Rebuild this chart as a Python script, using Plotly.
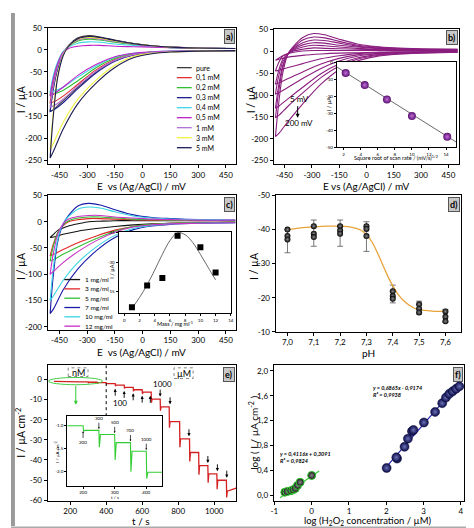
import plotly.graph_objects as go

W, H = 474, 528
FONT = "Lato"

# ---------------- Panel a: CVs at different H2O2 concentrations ----------------
cv_E_low = [500, 300, 150, 50, -50, -150, -250, -350, -430, -480, -500]
cv_E_up = [-500, -485, -460, -430, -400, -350, -290, -230, -150, -50, 50, 150, 300, 500]

a_labels = ["pure", "0,1 mM", "0,2 mM", "0,3 mM", "0,4 mM", "0,5 mM", "1 mM", "3 mM", "5 mM"]
a_colors = ["#3a3a3a", "#e03030", "#2fc02f", "#20208a", "#40d8e8", "#c020c8", "#b070d8", "#f0f040", "#1c1c55"]
a_low = [
    [-2, -3, -4, -6, -12, -25, -50, -85, -115, -135, -140],
    [-2, -3, -4, -5, -10, -22, -45, -78, -105, -118, -120],
    [-2, -3, -4, -5, -9, -19, -40, -70, -92, -100, -102],
    [-2, -3, -4, -6, -12, -26, -52, -88, -120, -136, -140],
    [-2, -3, -3, -5, -8, -17, -36, -62, -85, -94, -96],
    [-2, -3, -3, -5, -8, -16, -33, -58, -85, -100, -105],
    [-2, -3, -4, -6, -11, -24, -48, -82, -112, -127, -130],
    [-2, -3, -5, -8, -15, -35, -68, -112, -165, -210, -228],
    [-2, -3, -5, -9, -18, -40, -75, -122, -180, -228, -245],
]
a_up = [
    [-140, -95, -45, -10, 10, 27, 32, 29, 22, 14, 9, 6, 4, 3],
    [-120, -80, -38, -8, 8, 23, 27, 25, 19, 13, 8, 6, 4, 3],
    [-102, -68, -32, -6, 7, 20, 24, 22, 17, 12, 8, 5, 4, 3],
    [-140, -92, -42, -9, 9, 25, 29, 27, 21, 14, 9, 6, 4, 3],
    [-96, -62, -28, -4, 6, 15, 18, 17, 13, 10, 7, 5, 4, 3],
    [-105, -70, -32, -6, 3, 8, 10, 10, 8, 7, 6, 5, 4, 3],
    [-130, -88, -40, -8, 8, 22, 26, 24, 19, 13, 8, 6, 4, 3],
    [-228, -150, -60, -12, 8, 24, 28, 26, 20, 14, 9, 6, 4, 3],
    [-245, -160, -65, -14, 8, 25, 30, 28, 21, 14, 9, 6, 4, 3],
]

# ---------------- Panel b: scan rates ----------------
b_color = "#8b1f7f"
b_low = [
    [0, -1, -1, -2, -3, -4, -6, -9, -13, -18, -20],
    [-1, -1, -2, -3, -5, -10, -17, -28, -37, -43, -45],
    [-1, -2, -3, -5, -8, -16, -29, -47, -62, -72, -75],
    [-1, -2, -4, -6, -11, -22, -39, -62, -82, -94, -98],
    [-2, -3, -5, -8, -15, -29, -51, -82, -108, -125, -130],
    [-2, -3, -6, -10, -18, -34, -60, -95, -125, -146, -152],
    [-2, -4, -7, -12, -22, -42, -75, -120, -160, -187, -195],
]
b_up = [
    [-20, -16, -10, -5, -2, 1, 2, 2, 2, 2, 2, 2, 2, 2],
    [-45, -28, -11, -5, 1, 5, 8, 7, 6, 5, 4, 3, 3, 3],
    [-75, -48, -18, -5, 3, 10, 14, 13, 10, 7, 5, 4, 3, 3],
    [-98, -62, -24, -5, 5, 15, 20, 19, 14, 10, 7, 5, 4, 4],
    [-130, -85, -32, -5, 7, 20, 26, 25, 19, 12, 8, 6, 5, 4],
    [-152, -100, -38, -5, 9, 26, 33, 31, 23, 14, 10, 7, 5, 5],
    [-195, -130, -50, -5, 12, 32, 41, 38, 28, 17, 11, 8, 6, 5],
]
b_sqrt_rate = [2.24, 4.47, 7.07, 10.0, 14.14]
b_peak_I = [-6.4, -13.5, -21.9, -31.6, -43.8]
b_fit_x = [1.2, 15.2]
b_fit_y = [-2.9, -46.9]

# ---------------- Panel c: mass loading ----------------
c_labels = ["1 mg/ml", "3 mg/ml", "5 mg/ml", "7 mg/ml", "10 mg/ml", "12 mg/ml"]
c_colors = ["#111111", "#e02828", "#33c033", "#1a1aa8", "#38d4e4", "#c830c8"]
c_low = [
    [-1, -2, -3, -4, -6, -9, -13, -18, -24, -29, -30],
    [-1, -2, -3, -5, -9, -16, -27, -40, -53, -62, -65],
    [-1, -2, -3, -5, -9, -18, -32, -48, -62, -72, -75],
    [-2, -3, -5, -8, -15, -30, -55, -90, -130, -165, -175],
    [-2, -3, -4, -7, -13, -26, -48, -78, -112, -140, -150],
    [-2, -3, -4, -6, -10, -20, -36, -57, -78, -94, -100],
]
c_up = [
    [-30, -25, -17, -12, -8, -4, 0, 1, 2, 2, 2, 2, 2, 2],
    [-65, -45, -22, -8, 0, 4, 6, 6, 5, 4, 3, 3, 2, 2],
    [-75, -50, -22, -6, 2, 7, 9, 9, 7, 5, 4, 3, 3, 2],
    [-175, -110, -40, -5, 12, 30, 35, 32, 23, 13, 8, 6, 4, 3],
    [-150, -95, -35, -4, 10, 24, 28, 26, 19, 11, 7, 5, 4, 3],
    [-100, -65, -25, -4, 5, 10, 12, 12, 9, 7, 5, 4, 3, 3],
]
c_mass = [1, 3, 5, 7, 10, 12]
c_peak_I = [-7.1, -18.1, -21.9, -43.5, -37.6, -24.8]
c_fit_mass = [1, 2, 3, 4, 5, 6, 7, 8, 9, 10, 11, 12]
c_fit_I = [-6.5, -12, -18.5, -26, -34, -41, -45, -44, -40, -34, -27.5, -21]

# ---------------- Panel d: pH ----------------
d_pH = [7.0, 7.1, 7.2, 7.3, 7.4, 7.5, 7.6]
d_pts = [
    [-40.0, -38.1, -37.1],
    [-41.0, -38.8, -37.8],
    [-41.0, -39.7, -38.8],
    [-41.0, -40.2, -38.1],
    [-21.9, -20.5, -19.7],
    [-18.1, -16.8, -15.7],
    [-16.0, -14.4, -13.1],
]
d_bar_top = [-40.0, -42.8, -42.8, -42.3, -23.7, -19.0, -16.6]
d_bar_bottom = [-33.2, -35.1, -35.1, -33.6, -18.5, -15.2, -12.8]
d_fit_pH = [7.0, 7.05, 7.1, 7.15, 7.2, 7.25, 7.28, 7.3, 7.32, 7.34, 7.36, 7.38, 7.4,
            7.42, 7.45, 7.48, 7.5, 7.55, 7.6]
d_fit_I = [-40, -40.5, -40.8, -41, -41, -40.6, -39.8, -38.5, -36.5, -33.5, -30, -26.5, -23.5,
           -21, -18.5, -17, -16.5, -16.1, -16]

# ---------------- Panel e: amperometry ----------------
e_start = [110, 150]
e_start_I = [-0.9, -1.0]
nm_step_t = [200, 250, 300, 350, 400]
nm_levels = [-1.1, -1.19, -1.37, -1.56, -2.02]
nm_spikes = [-1.12, -1.47, -1.75, -2.01, -2.16]
um_step_t = [450, 500, 550, 600, 650, 700, 750, 808, 863, 914, 965, 1015, 1068]
um_levels = [-2.8, -3.9, -5.1, -6.3, -9.8, -13.6, -20.9, -29.5, -36.3, -42.8, -46.9, -50.1, -55.5]
um_spikes = [-3.3, -4.5, -5.9, -7.2, -11.5, -15.5, -24.0, -33.7, -40.8, -47.3, -51.3, -54.5, -58.6]
e_end_t = [1122]
e_end_I = [-54.0]
e_arrow_up_t = [450, 500, 550, 600, 645]
e_arrow_down_t = [700, 755, 860, 965, 1018, 1070]
e_inset_labels = ["200", "300", "500", "700", "1000"]

# ---------------- Panel f: calibration ----------------
f_green_x = [-0.72, -0.66, -0.56, -0.5, -0.44, -0.38, -0.31, 0.0]
f_green_y = [0.05, 0.06, 0.075, 0.09, 0.11, 0.16, 0.21, 0.32]
f_green_fit_x = [-0.85, 0.2]
f_green_fit_y = [-0.04, 0.39]
f_blue_x = [2.01, 2.29, 2.27, 2.49, 2.58, 2.69, 2.73, 3.01, 3.31, 3.5, 3.6, 3.69, 3.78, 3.87, 3.96]
f_blue_y = [0.44, 0.59, 0.61, 0.78, 0.91, 1.03, 1.05, 1.17, 1.34, 1.48, 1.57, 1.63, 1.67, 1.71, 1.75]
f_blue_fit_x = [1.95, 4.0]
f_blue_fit_y = [0.42, 1.83]


# ---------------- helpers ----------------
def dx(l, r):
    return [l / W, r / W]


def dy(t, b):
    return [1 - b / H, 1 - t / H]


def px(x):
    return x / W


def py(y):
    return 1 - y / H


fig = go.Figure()


def cv(xa, ya, low, up, color, width=1.1):
    fig.add_trace(go.Scatter(x=cv_E_low + cv_E_up, y=low + up, mode="lines",
                             line=dict(color=color, width=width, shape="spline", smoothing=0.8),
                             xaxis=xa, yaxis=ya, showlegend=False, hoverinfo="skip"))


# panel a
for lo, up, col in zip(a_low, a_up, a_colors):
    cv("x", "y", lo, up, col)
# panel b
for lo, up in zip(b_low, b_up):
    cv("x2", "y2", lo, up, b_color)
fig.add_trace(go.Scatter(x=b_fit_x, y=b_fit_y, mode="lines", line=dict(color="#444", width=0.8),
                         xaxis="x3", yaxis="y3", showlegend=False))
fig.add_trace(go.Scatter(x=b_sqrt_rate, y=b_peak_I, mode="markers",
                         marker=dict(size=8, color="#5a0f70", gradient=dict(type="radial", color="#c070d8"),
                                     line=dict(width=0)),
                         xaxis="x3", yaxis="y3", showlegend=False))
# panel c
for lo, up, col in zip(c_low, c_up, c_colors):
    cv("x4", "y4", lo, up, col)
fig.add_trace(go.Scatter(x=c_fit_mass, y=c_fit_I, mode="lines",
                         line=dict(color="#444", width=0.8, shape="spline"),
                         xaxis="x5", yaxis="y5", showlegend=False))
fig.add_trace(go.Scatter(x=c_mass, y=c_peak_I, mode="markers",
                         marker=dict(symbol="square", size=6, color="black"),
                         xaxis="x5", yaxis="y5", showlegend=False))
# panel d
d_center = [sum(p) / len(p) for p in d_pts]
fig.add_trace(go.Scatter(x=d_pH, y=d_center, mode="markers", marker=dict(size=1, color="rgba(0,0,0,0)"),
                         error_y=dict(type="data", symmetric=False,
                                      array=[b - c for b, c in zip(d_bar_bottom, d_center)],
                                      arrayminus=[c - t for t, c in zip(d_bar_top, d_center)],
                                      color="#555", thickness=0.8, width=3),
                         xaxis="x6", yaxis="y6", showlegend=False))
fig.add_trace(go.Scatter(x=d_fit_pH, y=d_fit_I, mode="lines",
                         line=dict(color="#e8a33a", width=1.3, shape="spline"),
                         xaxis="x6", yaxis="y6", showlegend=False))
fig.add_trace(go.Scatter(x=[p for p, pts in zip(d_pH, d_pts) for _ in pts],
                         y=[v for pts in d_pts for v in pts], mode="markers",
                         marker=dict(size=6, color="black", gradient=dict(type="radial", color="#8a8a8a")),
                         xaxis="x6", yaxis="y6", showlegend=False))


# panel e: build the staircase from the step tables
def staircase(t0, I0, steps, levels, spikes):
    t, I = list(t0), list(I0)
    prev = I[-1]
    for st, lv, sp in zip(steps, levels, spikes):
        t += [st, st + 1.5, st + 5]
        I += [prev, sp, lv]
        prev = lv
    return t, I, prev


t_nm, I_nm, last_nm = staircase(e_start, e_start_I, nm_step_t, nm_levels, nm_spikes)
t_all, I_all, last = staircase(t_nm, I_nm, um_step_t, um_levels, um_spikes)
t_all += e_end_t
I_all += e_end_I
fig.add_trace(go.Scatter(x=t_all, y=I_all, mode="lines", line=dict(color="#d42020", width=1.3),
                         xaxis="x7", yaxis="y7", showlegend=False))
t_in, I_in, _ = staircase([150], [-1.0], nm_step_t, nm_levels, nm_spikes)
t_in += [450]
I_in += [nm_levels[-1]]
fig.add_trace(go.Scatter(x=t_in, y=I_in, mode="lines", line=dict(color="#33cc33", width=1.1),
                         xaxis="x8", yaxis="y8", showlegend=False))

# panel f
fig.add_trace(go.Scatter(x=f_green_fit_x, y=f_green_fit_y, mode="lines", line=dict(color="#33cc33", width=1.2),
                         xaxis="x9", yaxis="y9", showlegend=False))
fig.add_trace(go.Scatter(x=f_blue_fit_x, y=f_blue_fit_y, mode="lines", line=dict(color="#2020b0", width=1.2),
                         xaxis="x9", yaxis="y9", showlegend=False))
fig.add_trace(go.Scatter(x=f_green_x, y=f_green_y, mode="markers",
                         marker=dict(size=8, color="#111111", gradient=dict(type="radial", color="#8a8a8a"),
                                     line=dict(color="#33cc33", width=1)),
                         xaxis="x9", yaxis="y9", showlegend=False))
fig.add_trace(go.Scatter(x=f_blue_x, y=f_blue_y, mode="markers",
                         marker=dict(size=9, color="#0c0c48", gradient=dict(type="radial", color="#6c72b8"),
                                     line=dict(color="#08083a", width=0.5)),
                         xaxis="x9", yaxis="y9", showlegend=False))

# ---------------- axes ----------------
TF = dict(family=FONT, size=8, color="black")
TFS = dict(family=FONT, size=4.5, color="black")


def ax(domain, rng, anchor, tickvals=None, ticktext=None, small=False):
    d = dict(domain=domain, range=rng, anchor=anchor, showline=True, linecolor="black",
             linewidth=1, mirror=True, ticks="outside", ticklen=2 if small else 3, tickcolor="black",
             tickwidth=0.8, showgrid=False, zeroline=False, tickfont=TFS if small else TF)
    if tickvals is not None:
        d["tickmode"] = "array"
        d["tickvals"] = tickvals
        d["ticktext"] = ticktext if ticktext is not None else [str(v) for v in tickvals]
    return d


E_ticks = [-450, -300, -150, 0, 150, 300, 450]
layout_axes = dict(
    xaxis=ax(dx(37, 228), [-514, 505], "y", E_ticks),
    yaxis=ax(dy(15, 154), [-259, 50], "x", [50, 0, -50, -100, -150, -200, -250]),
    xaxis2=ax(dx(266, 454), [-510, 510], "y2", E_ticks),
    yaxis2=ax(dy(16, 154), [-258, 52], "x2", [50, 0, -50, -100, -150, -200, -250]),
    xaxis3=ax(dx(330, 451), [1.2, 15.2], "y3", [2, 4, 6, 8, 10, 12, 14], small=True),
    yaxis3=ax(dy(50, 137), [-50, 0], "x3", [0, -10, -20, -30, -40, -50], small=True),
    xaxis4=ax(dx(37, 228), [-514, 505], "y4", E_ticks),
    yaxis4=ax(dy(186, 323), [-206, 50], "x4", [50, 0, -50, -100, -150, -200]),
    xaxis5=ax(dx(109, 223), [-0.75, 14.05], "y5", [0, 2, 4, 6, 8, 10, 12, 14], small=True),
    yaxis5=ax(dy(223, 306), [-4, -45.5], "x5", [-45, -30, -15], small=True),
    xaxis6=ax(dx(268, 456), [6.955, 7.66], "y6", d_pH, ["7,0", "7,1", "7,2", "7,3", "7,4", "7,5", "7,6"]),
    yaxis6=ax(dy(186, 325), [-10, -50], "x6", [-50, -40, -30, -20, -10]),
    xaxis7=ax(dx(37, 228), [74, 1122], "y7", [200, 400, 600, 800, 1000]),
    yaxis7=ax(dy(359, 497), [-60.2, 7.1], "x7", [0, -10, -20, -30, -40, -50, -60]),
    xaxis8=ax(dx(57, 153), [150, 450], "y8", [200, 300, 400], small=True),
    yaxis8=ax(dy(411, 482), [-2.32, -0.79], "x8", [-1.0, -1.5, -2.0], ["-1,0", "-1,5", "-2,0"], small=True),
    xaxis9=ax(dx(266, 459), [-1.02, 4.09], "y9", [-1, 0, 1, 2, 3, 4]),
    yaxis9=ax(dy(359, 497), [-0.084, 2.09], "x9", [0, 0.4, 0.8, 1.2, 1.6, 2.0],
              ["0,0", "0,4", "0,8", "1,2", "1,6", "2,0"]),
)

# ---------------- annotations ----------------
ann = []
shapes = []


def text(x, y, s, size=11, angle=0, xanchor="center", yanchor="middle", **kw):
    ann.append(dict(x=px(x), y=py(y), xref="paper", yref="paper", text=s, showarrow=False,
                    font=dict(family=FONT, size=size, color="black"), textangle=angle,
                    xanchor=xanchor, yanchor=yanchor, **kw))


# axis titles
text(132, 176.5, "E  vs (Ag/AgCl) / mV", size=10)
text(360, 176.5, "E vs (Ag/AgCl) / mV", size=10)
text(132, 346, "E  vs (Ag/AgCl) / mV", size=10)
text(362, 347, "pH", size=10)
text(132, 517.5, "t / s", size=10)
text(362, 517.5, "log (H<sub>2</sub>O<sub>2</sub> concentration / µM)", size=9.5)
text(10, 88, "I / µA", size=10.5, angle=-90)
text(243, 88, "I / µA", size=10.5, angle=-90)
text(10, 258, "I / µA", size=10.5, angle=-90)
text(246, 258, "I / µA", size=10.5, angle=-90)
text(10, 428, "I / µA cm<sup>-2</sup>", size=10.5, angle=-90)
text(246, 428, "log ( I / µA cm<sup>-2</sup> )", size=10, angle=-90)
# inset titles
text(390, 147.5, "Square root of scan rate / (mV/s)<sup>1/2</sup>", size=5.5)
text(322, 93, "I / µA", size=5.5, angle=-90)
text(166, 316, "Mass / mg ml<sup>-1</sup>", size=5.5)
text(102, 264, "I / µA", size=5.5, angle=-90)
text(105, 493.5, "t / s", size=4.5)
text(46, 447, "I / µA cm<sup>-2</sup>", size=4.5, angle=-90)

# panel labels
for lbl, r, t in [("a)", 228, 15), ("b)", 454, 16), ("c)", 228, 186), ("d)", 456, 186),
                  ("e)", 228, 359), ("f)", 459, 359)]:
    ann.append(dict(x=px(r - 1), y=py(t + 1.5), xref="paper", yref="paper", text="<b>" + lbl + "</b>",
                    showarrow=False, xanchor="right", yanchor="top", bgcolor="#c8c8c8",
                    bordercolor="#555", borderwidth=1, borderpad=1,
                    font=dict(family=FONT, size=9, color="black")))

# legends (drawn manually to match the tight spacing)
for i, (lbl, col) in enumerate(zip(a_labels, a_colors)):
    yy = 55.7 + i * 10.2
    shapes.append(dict(type="line", xref="paper", yref="paper", x0=px(168), x1=px(183), y0=py(yy), y1=py(yy),
                       line=dict(color=col, width=1.3)))
    text(185, yy, lbl, size=7, xanchor="left")
for i, (lbl, col) in enumerate(zip(c_labels, c_colors)):
    yy = 271.7 + i * 9.5
    shapes.append(dict(type="line", xref="paper", yref="paper", x0=px(54), x1=px(70), y0=py(yy), y1=py(yy),
                       line=dict(color=col, width=1.3)))
    text(73, yy, lbl, size=6.5, xanchor="left")

# panel b scan-rate annotation
ann.append(dict(x=-378, y=-152, xref="x2", yref="y2", ax=-378, ay=-122, axref="x2", ayref="y2",
                showarrow=True, arrowhead=2, arrowsize=0.8, arrowwidth=1, arrowcolor="black", text=""))
ann.append(dict(x=-370, y=-108, xref="x2", yref="y2", text="5 mV", showarrow=False,
                font=dict(family=FONT, size=8, color="black")))
ann.append(dict(x=-370, y=-165, xref="x2", yref="y2", text="200 mV", showarrow=False,
                font=dict(family=FONT, size=8, color="black")))

# panel e annotations
shapes.append(dict(type="line", xref="x7", yref="y7", x0=400, x1=400, y0=7.1, y1=-18,
                   line=dict(color="black", width=1, dash="dot")))
shapes.append(dict(type="circle", xref="x7", yref="y7", x0=80, x1=380, y0=-2.6, y1=1.0,
                   line=dict(color="#44cc44", width=1)))
shapes.append(dict(type="rect", xref="x7", yref="y7", x0=189, x1=299, y0=1.5, y1=5.8,
                   line=dict(color="#666", width=0.8, dash="dot")))
shapes.append(dict(type="rect", xref="x7", yref="y7", x0=777, x1=883, y0=0.5, y1=5.8,
                   line=dict(color="#666", width=0.8, dash="dot")))
ann.append(dict(x=244, y=3.6, xref="x7", yref="y7", text="nM", showarrow=False,
                font=dict(family=FONT, size=9, color="black")))
ann.append(dict(x=830, y=3.1, xref="x7", yref="y7", text="µM", showarrow=False,
                font=dict(family=FONT, size=9, color="black")))
ann.append(dict(x=231, y=-12.5, xref="x7", yref="y7", ax=231, ay=-2.4, axref="x7", ayref="y7",
                showarrow=True, arrowhead=2, arrowsize=0.8, arrowwidth=1, arrowcolor="#33cc33", text=""))


def level_at(t):
    lv = nm_levels[-1]
    for st, l in zip(um_step_t, um_levels):
        if t >= st:
            lv = l
    return lv


for t in e_arrow_up_t:
    lv = level_at(t + 1)
    ann.append(dict(x=t, y=lv - 1.8, xref="x7", yref="y7", ax=t, ay=lv - 6, axref="x7", ayref="y7",
                    showarrow=True, arrowhead=2, arrowsize=0.7, arrowwidth=0.9, arrowcolor="black", text=""))
for t in e_arrow_down_t:
    lv = level_at(t - 10)
    ann.append(dict(x=t, y=lv + 1.3, xref="x7", yref="y7", ax=t, ay=lv + 5.5, axref="x7", ayref="y7",
                    showarrow=True, arrowhead=2, arrowsize=0.7, arrowwidth=0.9, arrowcolor="black", text=""))
ann.append(dict(x=478, y=-11.5, xref="x7", yref="y7", text="100", showarrow=False,
                font=dict(family=FONT, size=8, color="black")))
ann.append(dict(x=712, y=-2.3, xref="x7", yref="y7", text="1000", showarrow=False,
                font=dict(family=FONT, size=8, color="black")))

# inset e arrows and labels
prev_levels = [-1.0] + nm_levels[:-1]
for i, (t, lv, lab) in enumerate(zip(nm_step_t, prev_levels, e_inset_labels)):
    if i == 0:
        ann.append(dict(x=t, y=lv - 0.12, xref="x8", yref="y8", ax=t, ay=lv - 0.3, axref="x8", ayref="y8",
                        showarrow=True, arrowhead=2, arrowsize=0.5, arrowwidth=0.7, arrowcolor="black", text=""))
        ann.append(dict(x=t, y=lv - 0.37, xref="x8", yref="y8", text=lab, showarrow=False,
                        font=dict(family=FONT, size=4.5, color="black")))
    else:
        ann.append(dict(x=t, y=lv + 0.03, xref="x8", yref="y8", ax=t, ay=lv + 0.2, axref="x8", ayref="y8",
                        showarrow=True, arrowhead=2, arrowsize=0.5, arrowwidth=0.7, arrowcolor="black", text=""))
        ann.append(dict(x=t, y=lv + 0.26, xref="x8", yref="y8", text=lab, showarrow=False,
                        font=dict(family=FONT, size=4.5, color="black")))

# panel f equations
ann.append(dict(x=px(365), y=py(386), xref="paper", yref="paper", xanchor="left", yanchor="middle",
                text="<b><i>y = 0,6865x - 0,9174</i></b><br><b><i>R² = 0,9938</i></b>", showarrow=False,
                align="left", font=dict(family=FONT, size=5.5, color="black")))
ann.append(dict(x=px(270), y=py(453), xref="paper", yref="paper", xanchor="left", yanchor="middle",
                text="<b><i>y = 0,4116x + 0,3091</i></b><br><b><i>R² = 0,9824</i></b>", showarrow=False,
                align="left", font=dict(family=FONT, size=5.5, color="black")))

# scan border artefacts
shapes.append(dict(type="rect", xref="paper", yref="paper", x0=0, x1=px(4), y0=py(523), y1=1,
                   line=dict(width=0), fillcolor="#9a9a9a"))
shapes.append(dict(type="rect", xref="paper", yref="paper", x0=0, x1=1, y0=py(526), y1=py(523.5),
                   line=dict(width=0), fillcolor="#aaaaaa"))
shapes.append(dict(type="rect", xref="paper", yref="paper", x0=px(468), x1=1, y0=py(352), y1=1,
                   line=dict(width=0), fillcolor="#9a9a9a"))

fig.update_layout(
    width=W, height=H, margin=dict(l=0, r=0, t=0, b=0),
    paper_bgcolor="white", plot_bgcolor="white",
    font=dict(family=FONT, color="black"),
    showlegend=False, annotations=ann, shapes=shapes, **layout_axes,
)

fig.write_html("out.html")
